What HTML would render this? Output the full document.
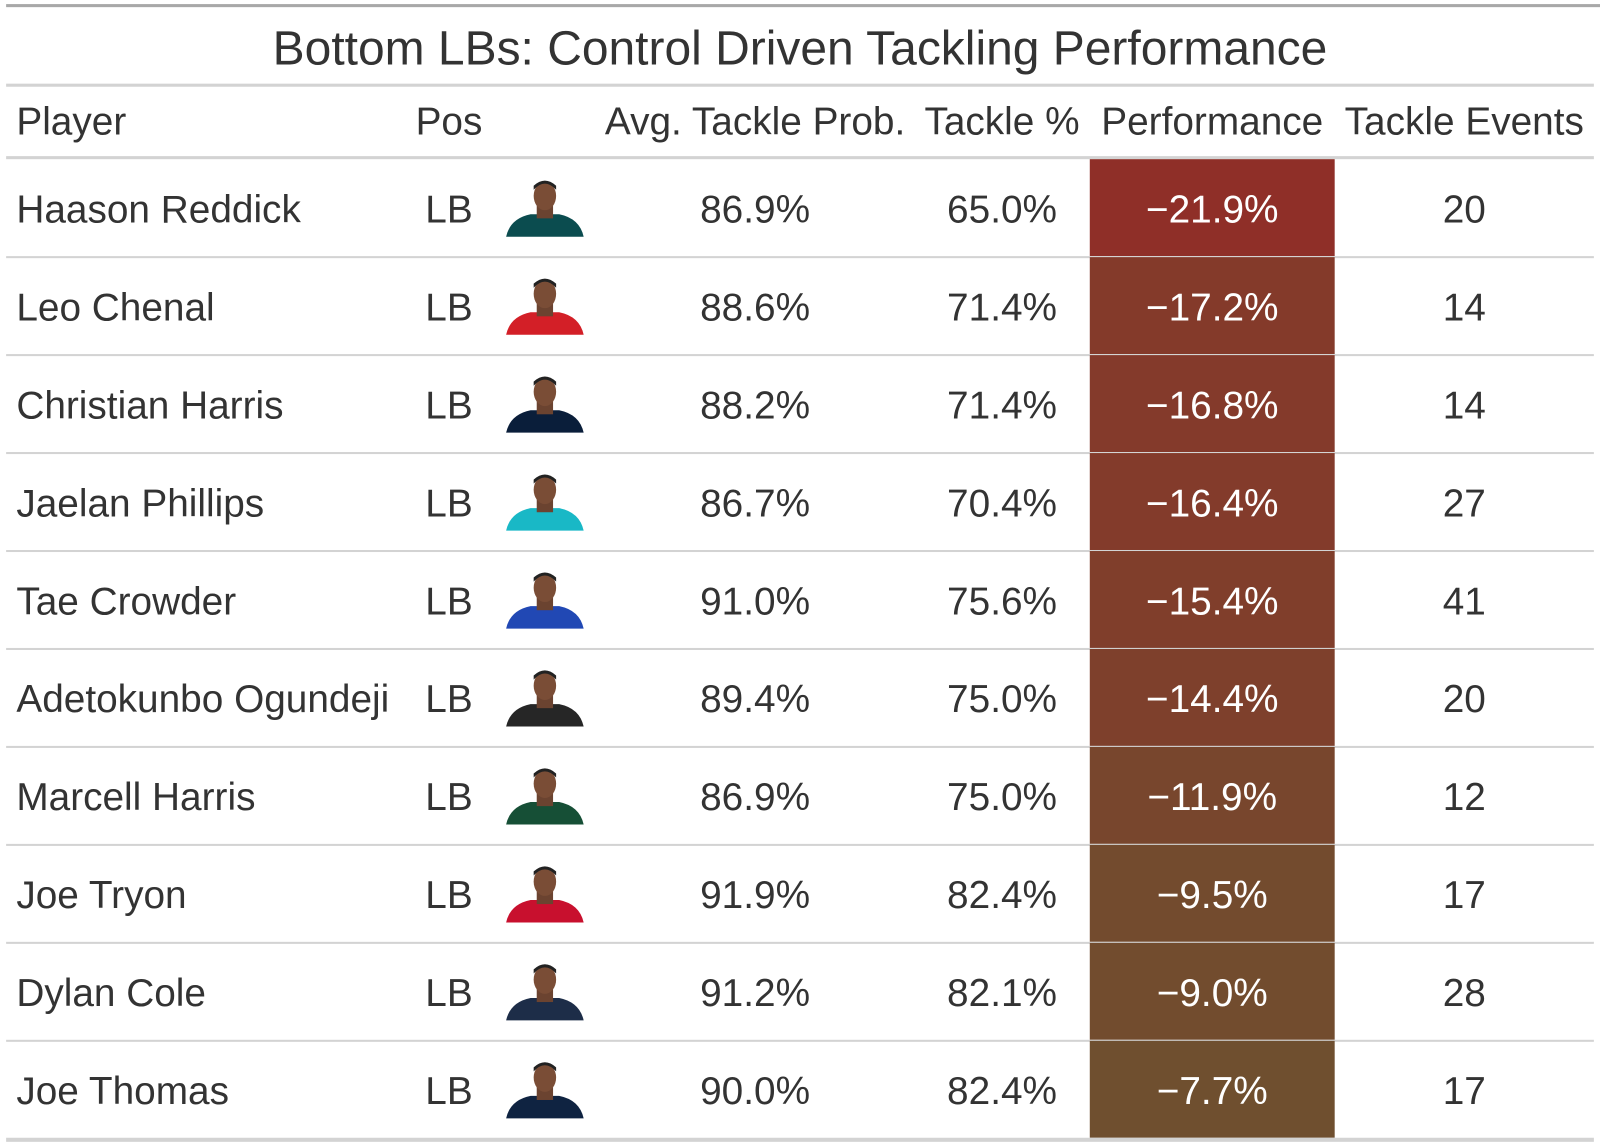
<!DOCTYPE html>
<html><head><meta charset="utf-8"><style>
body{margin:0;width:1600px;height:1146px;background:#fff;font-family:"Liberation Sans",sans-serif;color:#333;position:relative;overflow:hidden}
#wrap{position:absolute;left:0;top:0;width:1568px;height:1123px;transform:scale(1.0204);transform-origin:0 0}
.a{position:absolute}
.t{position:absolute;font-size:38px;line-height:40px;white-space:nowrap}
.c{transform:translateX(-50%)}
.ln{position:absolute;left:6px;width:1556px;background:#d3d3d3}
</style></head><body><div id="wrap">
<div class="a" style="left:6px;top:4px;width:1594px;height:3px;background:#a8a8a8"></div>
<div class="t c" style="left:784px;top:22px;font-size:47px;line-height:50px">Bottom LBs: Control Driven Tackling Performance</div>
<div class="ln" style="top:82px;height:3px"></div>
<div class="t" style="left:16px;top:100px">Player</div>
<div class="t c" style="left:440px;top:100px">Pos</div>
<div class="t c" style="left:740px;top:100px">Avg. Tackle Prob.</div>
<div class="t c" style="left:982px;top:100px">Tackle %</div>
<div class="t c" style="left:1188px;top:100px">Performance</div>
<div class="t c" style="left:1435px;top:100px">Tackle Events</div>
<div class="ln" style="top:153px;height:3px"></div>
<div id="rows"></div>
</div>
<script>
const players=["Haason Reddick","Leo Chenal","Christian Harris","Jaelan Phillips","Tae Crowder","Adetokunbo Ogundeji","Marcell Harris","Joe Tryon","Dylan Cole","Joe Thomas"];
const positions=["LB","LB","LB","LB","LB","LB","LB","LB","LB","LB"];
const avgProb=[86.9,88.6,88.2,86.7,91.0,89.4,86.9,91.9,91.2,90.0];
const tacklePct=[65.0,71.4,71.4,70.4,75.6,75.0,75.0,82.4,82.1,82.4];
const performance=[-21.9,-17.2,-16.8,-16.4,-15.4,-14.4,-11.9,-9.5,-9.0,-7.7];
const events=[20,14,14,27,41,20,12,17,28,17];
const jerseys=["#0b4c4f","#d31f27","#0a1e3a","#19b8c6","#2148b4","#262626","#164f36","#c8102e","#1d2d48","#0f2341"];
const root=document.getElementById('rows');
const top0=156,rh=96;
function col(v){const lo=-21.9,hi=-7.7;const t=Math.max(0,Math.min(1,(v-lo)/(hi-lo)));
const a=[143,47,40],b=[111,79,47];return `rgb(${a.map((x,i)=>Math.round(x+(b[i]-x)*t)).join(',')})`;}
function add(html,name,style,cls){const d=document.createElement('div');d.className=cls||'t';d.innerHTML=html;d.style.cssText=style;


root.appendChild(d);return d;}
players.forEach((p,i)=>{
 const y=top0+i*rh, ty=y+30;
 add('', 'performance-cell', `left:1068px;top:${y}px;width:240px;height:${rh-1}px;background:${col(performance[i])}`,'a');
 add(p,'player-name',`left:16px;top:${ty}px`);
 add(positions[i],'position',`left:440px;top:${ty}px`,'t c');
 add(`<svg width="80" height="60" viewBox="0 0 80 60"><path d="M2 58 Q6 40 26 36 L54 36 Q74 40 78 58 Z" fill="${jerseys[i]}"/><rect x="32" y="26" width="16" height="14" fill="#6b4330"/><ellipse cx="40" cy="18" rx="11" ry="14" fill="#7a4d36"/><path d="M29 12 Q40 0 51 12 L51 8 Q40 -2 29 8Z" fill="#222"/></svg>`,'player-headshot',`left:494px;top:${y+18}px;width:80px;height:60px`,'a');
 add(avgProb[i].toFixed(1)+'%','avg-tackle-prob',`left:740px;top:${ty}px`,'t c');
 add(tacklePct[i].toFixed(1)+'%','tackle-pct',`left:982px;top:${ty}px`,'t c');
 add('\u2212'+Math.abs(performance[i]).toFixed(1)+'%','performance-value',`left:1188px;top:${ty}px;color:#fff`,'t c');
 add(String(events[i]),'tackle-events',`left:1435px;top:${ty}px`,'t c');
 if(i<players.length-1) add('','row-divider',`top:${y+rh-1}px;height:2px`,'ln');
});
add('','bottom-border',`top:${top0+players.length*rh-1}px;height:4px`,'ln');
</script>
</body></html>
